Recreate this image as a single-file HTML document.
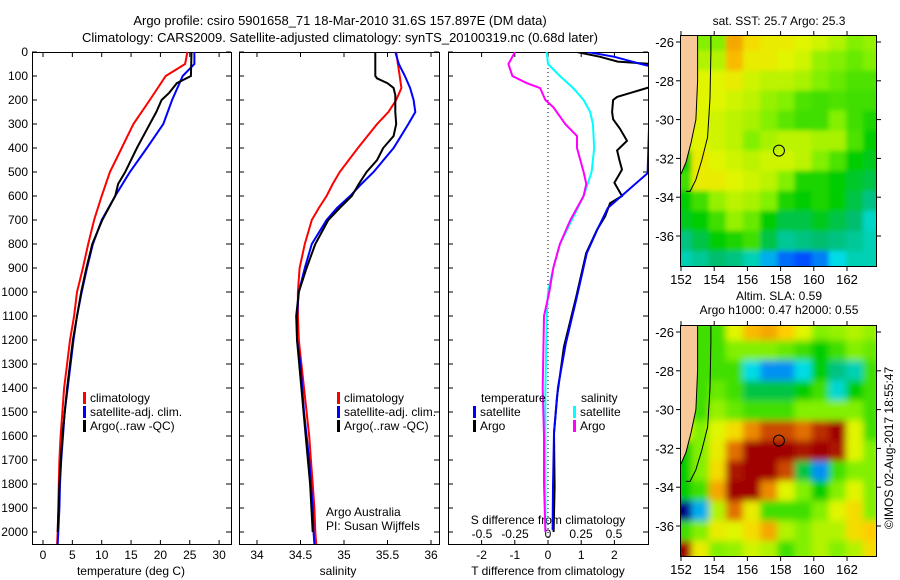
<!DOCTYPE html>
<html><head><meta charset="utf-8"><style>
html,body{margin:0;padding:0;background:#fff;}
svg{display:block;font-family:"Liberation Sans",sans-serif;}
text{fill:#000;font-size:12px;}
</style></head><body>
<svg id="fig" width="900" height="580" viewBox="0 0 900 580">
<text x="340" y="25" text-anchor="middle" style="font-size:13px">Argo profile: csiro 5901658_71 18-Mar-2010 31.6S 157.897E (DM data)</text>
<text x="340" y="42" text-anchor="middle" style="font-size:13px">Climatology: CARS2009. Satellite-adjusted climatology: synTS_20100319.nc (0.68d later)</text>
<g id="g"></g>
</svg>
<script>
// ---- data ----
const depthT=[0,50,100,200,300,400,500,600,700,800,900,1000,1100,1200,1300,1400,1500,1600,1700,1800,1900,2000,2050];
const tempClim=[24.6,24.2,20.9,18.2,15.4,13.4,11.4,10,8.7,7.7,6.8,5.8,5.3,4.6,4.1,3.6,3.3,3.0,2.8,2.7,2.6,2.5,2.4];
const tempSat=[25.8,25.8,23.8,22,20.5,17.7,14.8,12.3,10,8.5,7.5,6.6,5.8,5.2,4.7,4.2,3.7,3.4,3.1,2.9,2.8,2.6,2.5];
const depthArgoT=[0,100,130,170,200,250,300,400,500,550,600,700,800,900,1000,1200,1400,1600,1800,2000];
const tempArgo=[25.3,25.2,22.8,21.5,20.2,19.3,18.2,16,14,12.8,12.3,10.1,8.4,7.4,6.5,5.1,4.1,3.3,2.8,2.5];
const depthS=[0,50,100,150,200,250,300,400,500,550,600,650,700,800,900,1000,1100,1200,1300,1400,1500,1600,1700,1800,1900,2000,2050];
const salClim=[35.6,35.62,35.64,35.66,35.6,35.51,35.38,35.16,34.95,34.87,34.8,34.71,34.63,34.55,34.49,34.47,34.47,34.48,34.51,34.54,34.57,34.6,34.62,34.64,34.66,34.67,34.68];
const salSat=[35.59,35.63,35.7,35.76,35.8,35.82,35.74,35.57,35.34,35.2,35.07,34.92,34.8,34.63,34.55,34.48,34.46,34.46,34.5,34.52,34.54,34.57,34.6,34.62,34.64,34.65,34.66];
const depthArgoS=[0,100,110,130,150,180,250,300,350,400,450,500,550,600,650,700,800,900,1000,1100,1200,1400,1600,1800,2000];
const salArgo=[35.36,35.36,35.38,35.5,35.57,35.59,35.59,35.6,35.57,35.45,35.38,35.26,35.17,35.09,34.95,34.82,34.67,34.57,34.48,34.45,34.46,34.51,34.56,34.61,34.64];
const depthDS=[0,50,100,130,150,200,230,300,350,400,500,550,600,700,800,900,1000,1100,1400,1600,1800,2000];
const sDiffArgo=[-0.25,-0.3,-0.27,-0.16,-0.06,-0.02,0.04,0.13,0.22,0.22,0.27,0.29,0.27,0.17,0.09,0.04,0.01,-0.03,-0.04,-0.03,-0.03,-0.02];
const depthDS2=[0,50,100,150,200,250,300,400,500,550,600,700,800,900,1000,1100,1400,2000];
const sDiffSat=[-0.01,0,0.09,0.19,0.27,0.32,0.34,0.35,0.33,0.3,0.27,0.18,0.09,0.04,0,-0.01,-0.02,-0.02];
const depthDT=[0,20,50,60,505,650,742,838,1020,1213,1396,1588,1812,1992];
const tDiffSat=[1.2,2.0,2.8,3.1,3.0,1.8,1.48,1.17,0.87,0.54,0.3,0.18,0.15,0.14];
const depthDTA=[0,20,40,50,145,187,200,250,280,320,370,410,450,490,545,600,630,685,740,838,1020,1229,1437,1588,1812,2000];
const tDiffArgo=[0.87,1.57,2.1,3.1,3.1,2.08,1.96,1.93,1.96,2.17,2.38,2.08,2.15,2.23,2.0,2.23,1.87,1.72,1.48,1.15,0.85,0.48,0.27,0.18,0.2,0.17];
const depthTicks=[0,100,200,300,400,500,600,700,800,900,1000,1100,1200,1300,1400,1500,1600,1700,1800,1900,2000];
const tempTicks=[0,5,10,15,20,25,30];
const salTicks=[34,34.5,35,35.5,36];
const tdTicks=[-2,-1,0,1,2];
const sdTicks=[-0.5,-0.25,0,0.25,0.5];
const sdTickLabels=["-0.5","-0.25","0","0.25","0.5"];
const lonTicks=[152,154,156,158,160,162];
const latTicks=[-26,-28,-30,-32,-34,-36];
const sstGrid=[
[-1,-1,0.6,0.82,0.75,0.72,0.72,0.7,0.68,0.65,0.6,0.62],
[-1,-1,0.65,0.8,0.72,0.72,0.7,0.68,0.62,0.6,0.58,0.6],
[-1,-1,0.7,0.72,0.68,0.66,0.66,0.64,0.6,0.58,0.56,0.56],
[-1,0.7,0.7,0.68,0.66,0.62,0.6,0.56,0.55,0.56,0.55,0.55],
[-1,0.7,0.68,0.66,0.64,0.6,0.57,0.55,0.55,0.6,0.55,0.52],
[-1,0.7,0.68,0.66,0.6,0.64,0.66,0.66,0.64,0.64,0.56,0.5],
[0.5,0.72,0.7,0.68,0.66,0.68,0.68,0.66,0.6,0.56,0.5,0.48],
[0.55,0.72,0.72,0.7,0.68,0.66,0.6,0.52,0.52,0.5,0.47,0.45],
[0.5,0.55,0.62,0.66,0.64,0.6,0.52,0.5,0.52,0.5,0.45,0.4],
[0.48,0.5,0.55,0.62,0.58,0.5,0.45,0.45,0.48,0.45,0.42,0.33],
[0.4,0.45,0.5,0.52,0.55,0.45,0.38,0.4,0.42,0.4,0.38,0.35],
[0.35,0.38,0.42,0.4,0.35,0.25,0.18,0.15,0.2,0.3,0.35,0.35]];
const slaGrid=[
[-1,-1,0.55,0.7,0.8,0.82,0.78,0.7,0.6,0.62,0.65,0.62],
[-1,-1,0.55,0.6,0.6,0.6,0.58,0.55,0.5,0.55,0.6,0.58],
[-1,-1,0.55,0.55,0.3,0.22,0.22,0.3,0.5,0.4,0.35,0.55],
[-1,0.55,0.58,0.55,0.45,0.45,0.45,0.5,0.55,0.32,0.5,0.55],
[-1,0.55,0.62,0.58,0.55,0.55,0.55,0.6,0.6,0.6,0.6,0.55],
[-1,0.6,0.7,0.75,0.85,0.92,0.92,0.88,0.95,1,0.7,0.55],
[0.5,0.6,0.72,0.88,1,1,1,0.98,1,0.98,0.7,0.6],
[0.5,0.6,0.75,0.98,1,1,0.92,0.45,0.22,0.55,0.6,0.6],
[0.5,0.55,0.82,1,1,0.85,0.7,0.6,0.5,0.6,0.7,0.6],
[0.0,0.25,0.65,0.88,0.72,0.55,0.55,0.55,0.6,0.7,0.75,0.6],
[0.55,0.6,0.72,0.7,0.75,0.82,0.65,0.6,0.65,0.65,0.75,0.78],
[1,0.72,0.6,0.62,0.68,0.65,0.55,0.6,0.65,0.6,0.65,0.75]];
const coastLon=[153.0,153.0,152.9,152.6,152.3,152.0,151.8];
const coastLat=[-25.6,-28,-30,-31.2,-32.2,-32.8,-32.8];

// ---- helpers ----
const NS='http://www.w3.org/2000/svg';
const G=document.getElementById('g');
function mk(tag,attrs,parent){const e=document.createElementNS(NS,tag);for(const k in attrs)e.setAttribute(k,attrs[k]);(parent||G).appendChild(e);return e;}
const yD=d=>52+d*0.24;
const xT=t=>43+t*5.87;
const xS=s=>257+(s-34)*87;
const xTD=t=>548+t*33.2;
const xSD=s=>548+s*132;
function line(xs,ys,fx,fy,color,name,clip,w){
  const p=xs.map((v,i)=>fx(v).toFixed(1)+','+fy(ys[i]).toFixed(1)).join(' ');
  const el=mk('polyline',{points:p,fill:'none',stroke:color,'stroke-width':w||2});
  if(clip)el.setAttribute('clip-path','url(#'+clip+')');
  
  
}
const defs=mk('defs',{});
[['c3',448,52,200,493]].forEach(c=>{const cp=mk('clipPath',{id:c[0]},defs);mk('rect',{x:c[1],y:c[2],width:c[3],height:c[4]},cp);});
[['blur1',2.5],['blur2',3.5]].forEach(b=>{const f=mk('filter',{id:b[0],x:'-10%',y:'-10%',width:'120%',height:'120%'},defs);mk('feGaussianBlur',{stdDeviation:b[1],edgeMode:'duplicate'},f);});

const panels=[[32,231],[239,439],[448,648]];
panels.forEach((p,i)=>{const r=mk('rect',{x:p[0]+0.5,y:52.5,width:p[1]-p[0],height:492,fill:'none',stroke:'#000','stroke-width':1});

});
depthTicks.forEach(d=>{const y=yD(d);
 panels.forEach(p=>{mk('line',{x1:p[0],y1:y,x2:p[0]+5,y2:y,stroke:'#000'});mk('line',{x1:p[1]-5,y1:y,x2:p[1],y2:y,stroke:'#000'});});
 const t=mk('text',{x:28,y:y+4,'text-anchor':'end'});t.textContent=d;
 
 });
function xticks(vals,fx,labels,ly,p,top){vals.forEach((v,i)=>{const x=fx(v);
 mk('line',{x1:x,y1:545,x2:x,y2:540,stroke:'#000'});
 if(top)mk('line',{x1:x,y1:52,x2:x,y2:57,stroke:'#000'});
 const t=mk('text',{x:x,y:ly,'text-anchor':'middle'});t.textContent=labels?labels[i]:v;
 
 });}
xticks(tempTicks,xT,null,559,0,true);
xticks(salTicks,xS,null,559,1,true);
xticks(tdTicks,xTD,null,559,2,true);
sdTicks.forEach((v,i)=>{const t=mk('text',{x:xSD(v),y:538,'text-anchor':'middle'});t.textContent=sdTickLabels[i];
 
 });
function lab(x,y,s,name,anchor,extra){const t=mk('text',Object.assign({x:x,y:y,'text-anchor':anchor||'start'},extra||{}));t.textContent=s;
 
 return t;}
lab(131,575,'temperature (deg C)','x-axis-title-temperature','middle');
lab(338,575,'salinity','x-axis-title-salinity','middle');
lab(548,575,'T difference from climatology','x-axis-title-tdiff','middle');
lab(548,524,'S difference from climatology','x-axis-title-sdiff','middle');
lab(326,516,'Argo Australia','credit-argo-australia');
lab(326,530,'PI: Susan Wijffels','credit-pi');
mk('line',{x1:548,y1:52,x2:548,y2:545,stroke:'#000','stroke-dasharray':'1,3'});

line(tempClim,depthT,xT,yD,'#ff0000','temp-climatology-line');
line(tempSat,depthT,xT,yD,'#0000ff','temp-satellite-line');
line(tempArgo,depthArgoT,xT,yD,'#000','temp-argo-line');
line(salClim,depthS,xS,yD,'#ff0000','sal-climatology-line');
line(salSat,depthS,xS,yD,'#0000ff','sal-satellite-line');
line(salArgo,depthArgoS,xS,yD,'#000','sal-argo-line');
line(sDiffSat,depthDS2,xSD,yD,'#00ffff','sdiff-satellite-line','c3');
line(sDiffArgo,depthDS,xSD,yD,'#ff00ff','sdiff-argo-line','c3');
line(tDiffArgo,depthDTA,xTD,yD,'#000','tdiff-argo-line','c3');
line(tDiffSat,depthDT,xTD,yD,'#0000ff','tdiff-satellite-line','c3');

function legend(x,y,color,text,name){const r=mk('rect',{x:x,y:y-10,width:3,height:12,fill:color});
 
 
 lab(x+7,y,text,name);}
[[83,'climatology','#ff0000'],[83,'satellite-adj. clim.','#0000ff'],[83,'Argo(..raw -QC)','#000']].forEach((l,i)=>legend(l[0],402+i*14,l[2],l[1],'legend-temp-'+i));
[[337,'climatology','#ff0000'],[337,'satellite-adj. clim.','#0000ff'],[337,'Argo(..raw -QC)','#000']].forEach((l,i)=>legend(l[0],402+i*14,l[2],l[1],'legend-sal-'+i));
lab(481,402,'temperature','legend-title-temperature');
lab(581,402,'salinity','legend-title-salinity');
legend(473,416,'#0000ff','satellite','legend-tdiff-satellite');
legend(473,430,'#000','Argo','legend-tdiff-argo');
legend(573,416,'#00ffff','satellite','legend-sdiff-satellite');
legend(573,430,'#ff00ff','Argo','legend-sdiff-argo');

const cmStops=[0,0.15,0.3,0.42,0.5,0.6,0.7,0.78,0.87,1];
const cmCols=[[0,0,140],[0,80,255],[0,220,230],[0,190,110],[0,205,0],[130,240,0],[225,245,0],[255,205,0],[230,120,0],[160,0,0]];
function cmap(v){v=Math.max(0,Math.min(1,v));let i=0;while(i<cmStops.length-2&&v>cmStops[i+1])i++;
 const t=(v-cmStops[i])/(cmStops[i+1]-cmStops[i]);const a=cmCols[i],b=cmCols[i+1];
 return 'rgb('+a.map((c,k)=>Math.round(c+(b[k]-c)*t)).join(',')+')';}
function drawMap(top,grid,name,clipId,blurId){
 const L=680,R=877,B=top+232;
 const fx=lon=>681+(lon-152)*16.6;
 const fy=lat=>top+7+(-26-lat)*19.4;
 const cp=mk('clipPath',{id:clipId},defs);mk('rect',{x:L,y:top,width:R-L,height:B-top},cp);
 const g=mk('g',{'clip-path':'url(#'+clipId+')'});
 
 
 const cells=mk('g',{filter:'url(#'+blurId+')'},g);
 const nr=grid.length,nc=grid[0].length;
 grid.forEach((row,ri)=>row.forEach((v,ci)=>{
   const lon0=151.6+ci*(12.4/nc),lat0=-25.4-ri*(12.4/nr);
   const x0=fx(lon0),y0=fy(lat0),x1=fx(lon0+12.4/nc),y1=fy(lat0-12.4/nr);
   let vv=v;if(v<0){vv=grid[ri][2]>=0?grid[ri][2]:0.55;}
   const c=mk('rect',{x:x0.toFixed(1),y:y0.toFixed(1),width:(x1-x0+0.6).toFixed(1),height:(y1-y0+0.6).toFixed(1),fill:cmap(vv)},cells);
   
   
 }));
 const pts=coastLon.map((lo,i)=>fx(lo).toFixed(1)+','+fy(coastLat[i]).toFixed(1)).join(' ');
 const land=mk('polygon',{points:pts+' '+fx(151.5)+','+fy(-32.8)+' '+fx(151.5)+','+fy(-25.4),fill:'#f9c898',stroke:'#000','stroke-width':1},g);
 
 
 const cpts=coastLon.map((lo,i)=>fx(lo+0.8-i*0.05).toFixed(1)+','+fy(coastLat[i]-0.9).toFixed(1)).join(' ');
 mk('polyline',{points:fx(153.8)+','+top+' '+cpts,fill:'none',stroke:'#000','stroke-width':1},g);
 const fr=mk('rect',{x:L+0.5,y:top+0.5,width:R-L-1,height:B-top-1,fill:'none',stroke:'#000'});
 
 
 lonTicks.forEach(lo=>{const x=fx(lo);mk('line',{x1:x,y1:top-4,x2:x,y2:top,stroke:'#000'});mk('line',{x1:x,y1:B,x2:x,y2:B+4,stroke:'#000'});
   lab(x,B+17,String(lo),name+'-lon-label','middle',{style:'font-size:13px'});});
 latTicks.forEach(la=>{const y=fy(la);mk('line',{x1:L-4,y1:y,x2:L,y2:y,stroke:'#000'});mk('line',{x1:R,y1:y,x2:R+4,y2:y,stroke:'#000'});
   lab(L-6,y+5,String(la),name+'-lat-label','end',{style:'font-size:13px'});});
 const c=mk('circle',{cx:fx(157.9),cy:fy(-31.6),r:5.5,fill:'none',stroke:'#000'});
 
 
}
drawMap(35,sstGrid,'sst-map','cm1','blur1');
drawMap(325,slaGrid,'sla-map','cm2','blur2');
lab(779,25,'sat. SST: 25.7 Argo: 25.3','sst-map-title','middle');
lab(779,300,'Altim. SLA: 0.59','sla-map-title','middle');
lab(779,314,'Argo h1000: 0.47 h2000: 0.55','sla-map-subtitle','middle');
lab(893,448,'©IMOS 02-Aug-2017 18:55:47','timestamp','middle',{transform:'rotate(-90 893 448)'});
</script>
</body></html>
